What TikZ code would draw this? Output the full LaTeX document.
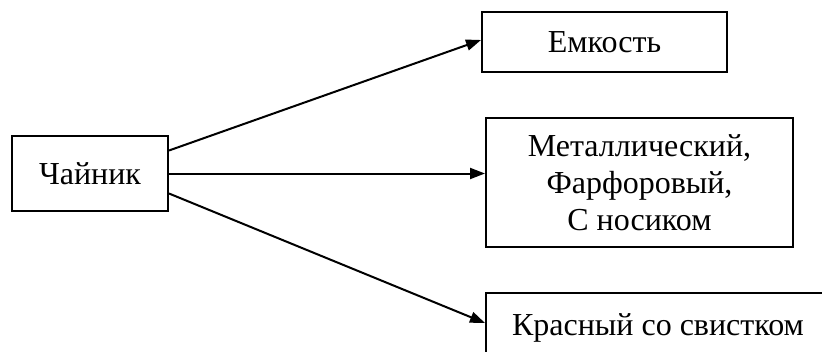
\documentclass[tikz,border=0pt]{standalone}
\usepackage{fontspec}
\setmainfont{Liberation Serif}
\usetikzlibrary{arrows.meta,positioning}

\begin{document}
\begin{tikzpicture}[x=0.5pt, y=-0.5pt,
  every node/.style={font=\fontsize{16}{18.5}\selectfont},
  box/.style={rectangle, draw=black, line width=1pt, inner sep=0pt, align=center},
  arrow/.style={-{Triangle[length=7.5pt, width=5.5pt]}, line width=1pt},
]

% page frame; the last box runs off the edge
\clip (0,0) rectangle (822,352);

% source node on the left
\node[box, minimum width=78pt, minimum height=37.5pt] (kettle) at (90,173.5) {Чайник};

% property boxes on the right
\node[box, minimum width=122.5pt, minimum height=30pt] (capacity) at (604.5,42) {Емкость};
\node[box, minimum width=153.5pt, minimum height=64.5pt] (material) at (639.5,182.5)
  {Металлический,\\Фарфоровый,\\С носиком};
\node[box, minimum width=172pt, minimum height=35pt] (colour) at (658,328) {Красный со свистком};

% arrows from the kettle
\draw[arrow] ([yshift=11.5pt]kettle.east) -- ([yshift=1pt]capacity.west);
\draw[arrow] (kettle.east) -- (kettle.east -| material.west);
\draw[arrow] ([yshift=-10pt]kettle.east) -- ([yshift=2.5pt]colour.west);

\end{tikzpicture}
\end{document}
